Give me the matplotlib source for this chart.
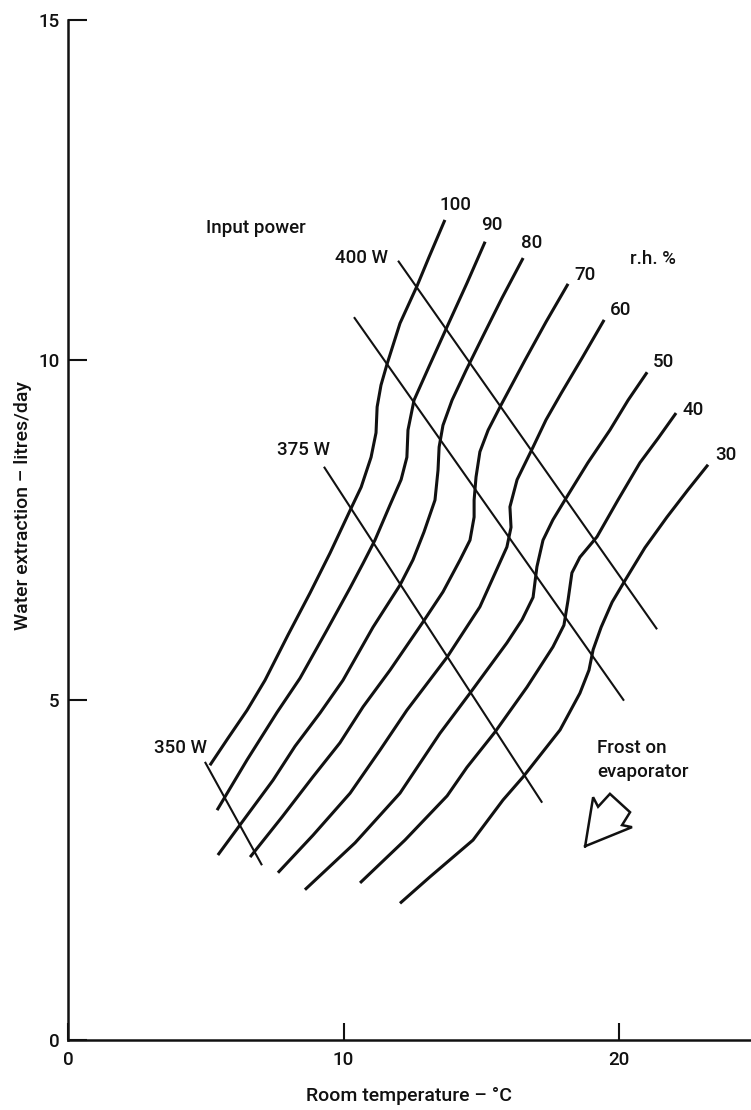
import matplotlib
matplotlib.use("Agg")
import matplotlib.pyplot as plt

plt.rcParams['font.family'] = ['Roboto', 'DejaVu Sans']
plt.rcParams['font.weight'] = 'medium'
plt.rcParams['axes.labelweight'] = 'medium'

# ---- data (room temperature °C, water extraction litres/day) ----
rh_labels = ["100", "90", "80", "70", "60", "50", "40", "30"]

rh100_x = [13.68, 13.10, 12.67, 12.05, 11.58, 11.36, 11.22, 11.18, 11.00, 10.64, 10.24, 9.51, 8.78, 7.99, 7.15, 6.50, 5.81, 5.15]
rh100_y = [12.06, 11.51, 11.09, 10.54, 9.94, 9.63, 9.31, 8.93, 8.57, 8.13, 7.79, 7.16, 6.57, 5.96, 5.29, 4.85, 4.44, 4.04]

rh90_x = [15.14, 14.48, 13.76, 13.10, 12.56, 12.34, 12.30, 12.09, 11.69, 11.14, 10.71, 10.24, 9.40, 8.42, 7.59, 6.50, 5.41]
rh90_y = [11.74, 11.13, 10.49, 9.90, 9.41, 8.97, 8.57, 8.24, 7.87, 7.35, 7.01, 6.65, 6.03, 5.32, 4.82, 4.12, 3.38]

rh80_x = [16.52, 15.75, 15.06, 14.45, 13.94, 13.61, 13.47, 13.43, 13.32, 12.92, 12.52, 12.05, 11.07, 9.98, 9.15, 8.24, 7.44, 6.42, 5.44]
rh80_y = [11.50, 10.91, 10.35, 9.85, 9.41, 9.04, 8.72, 8.38, 7.94, 7.47, 7.06, 6.69, 6.07, 5.29, 4.81, 4.32, 3.82, 3.26, 2.72]

rh70_x = [18.15, 17.35, 16.59, 15.72, 15.25, 14.95, 14.81, 14.74, 14.74, 14.59, 14.23, 13.61, 12.89, 11.69, 10.71, 9.87, 8.89, 7.77, 6.61]
rh70_y = [11.12, 10.56, 10.00, 9.34, 8.97, 8.65, 8.28, 7.94, 7.69, 7.35, 7.06, 6.59, 6.15, 5.44, 4.90, 4.37, 3.87, 3.28, 2.69]

rh60_x = [19.46, 18.66, 17.90, 17.35, 16.88, 16.30, 16.04, 16.08, 15.93, 15.64, 14.95, 13.76, 12.30, 11.32, 10.24, 8.89, 7.62]
rh60_y = [10.59, 10.03, 9.51, 9.12, 8.72, 8.24, 7.84, 7.54, 7.25, 6.99, 6.37, 5.63, 4.85, 4.26, 3.63, 3.01, 2.46]

rh50_x = [21.02, 20.33, 19.67, 18.87, 18.11, 17.60, 17.24, 17.02, 16.88, 16.48, 15.93, 14.59, 13.50, 12.05, 10.42, 8.60]
rh50_y = [9.82, 9.41, 8.97, 8.49, 7.99, 7.65, 7.35, 6.96, 6.51, 6.18, 5.84, 5.10, 4.51, 3.63, 2.90, 2.21]

rh40_x = [22.07, 21.42, 20.76, 19.96, 19.20, 18.58, 18.29, 18.15, 18.00, 17.60, 16.66, 15.50, 14.48, 13.76, 12.23, 10.60]
rh40_y = [9.22, 8.85, 8.49, 7.94, 7.40, 7.10, 6.87, 6.47, 6.10, 5.78, 5.19, 4.53, 4.01, 3.59, 2.94, 2.31]

rh30_x = [23.23, 22.50, 21.74, 20.94, 20.22, 19.75, 19.35, 19.06, 18.91, 18.58, 17.86, 16.52, 15.79, 14.70, 13.14, 12.05]
rh30_y = [8.46, 8.09, 7.69, 7.24, 6.76, 6.44, 6.07, 5.74, 5.44, 5.10, 4.56, 3.87, 3.53, 2.94, 2.40, 2.01]

rh_label_x = [14.05, 15.39, 16.84, 18.77, 20.07, 21.63, 22.69, 23.88]
rh_label_y = [12.28, 11.99, 11.72, 11.25, 10.74, 9.97, 9.26, 8.60]

# input-power lines (start and end points)
power_labels = ["350 W", "375 W", "", "400 W"]
power_x0 = [4.97, 9.29, 10.38, 11.98]
power_y0 = [4.09, 8.43, 10.63, 11.46]
power_x1 = [7.04, 17.21, 20.18, 21.38]
power_y1 = [2.57, 3.49, 4.99, 6.04]
power_label_x = [4.07, 8.53, None, 10.67]
power_label_y = [4.29, 8.68, None, 11.50]

# hand-drawn arrow outline
arrow_x = [18.77, 19.06, 19.24, 19.67, 20.40, 20.11, 20.47, 18.77]
arrow_y = [2.85, 3.57, 3.43, 3.62, 3.35, 3.16, 3.13, 2.85]

x_ticks = [0, 10, 20]
y_ticks = [0, 5, 10, 15]

# ---- figure ----
W, H = 751, 1110
fig = plt.figure(figsize=(W / 100, H / 100), dpi=100)
ax = fig.add_axes([68 / W, 70 / H, 683 / W, 1020 / H])
ax.set_xlim(0, 24.79)
ax.set_ylim(0, 15)

ink = '#111111'
fs = 13.5
curves = [(rh100_x, rh100_y), (rh90_x, rh90_y), (rh80_x, rh80_y), (rh70_x, rh70_y),
          (rh60_x, rh60_y), (rh50_x, rh50_y), (rh40_x, rh40_y), (rh30_x, rh30_y)]
for (cx, cy), lab, lx, ly in zip(curves, rh_labels, rh_label_x, rh_label_y):
    ax.plot(cx, cy, color=ink, lw=2.2, solid_joinstyle='round', solid_capstyle='butt')
    ax.text(lx, ly, lab, fontsize=fs, ha='center', va='center', color=ink)

for x0, y0, x1, y1, lab, lx, ly in zip(power_x0, power_y0, power_x1, power_y1,
                                       power_labels, power_label_x, power_label_y):
    ax.plot([x0, x1], [y0, y1], color=ink, lw=1.5, solid_capstyle='butt')
    if lab:
        ax.text(lx, ly, lab, fontsize=fs, ha='center', va='center', color=ink)

ax.text(5.01, 11.94, "Input power", fontsize=fs, ha='left', va='center', color=ink)
ax.text(21.23, 11.49, "r.h. %", fontsize=fs, ha='center', va='center', color=ink)
ax.text(19.20, 4.29, "Frost on", fontsize=fs, ha='left', va='center', color=ink)
ax.text(19.20, 3.94, "evaporator", fontsize=fs, ha='left', va='center', color=ink)

ax.plot(arrow_x, arrow_y, color=ink, lw=1.8, solid_joinstyle='miter')

# axes styling
for s in ['top', 'right']:
    ax.spines[s].set_visible(False)
for s in ['left', 'bottom']:
    ax.spines[s].set_linewidth(1.8)
    ax.spines[s].set_color(ink)

ax.set_xticks(x_ticks)
ax.set_xticklabels([str(t) for t in x_ticks])
ax.set_yticks(y_ticks)
ax.set_yticklabels([str(t) for t in y_ticks])
ax.tick_params(axis='x', direction='in', length=12, width=1.5, labelsize=fs, pad=8, colors=ink)
ax.tick_params(axis='y', direction='in', length=14, width=1.5, labelsize=fs, pad=6, colors=ink)

ax.set_xlabel("Room temperature – °C", fontsize=14, color=ink)
ax.xaxis.set_label_coords(0.5, -0.046)
ax.set_ylabel("Water extraction – litres/day", fontsize=14, color=ink)
ax.yaxis.set_label_coords(-0.052, 0.524)

fig.savefig("out.png", dpi=100, facecolor='white')
